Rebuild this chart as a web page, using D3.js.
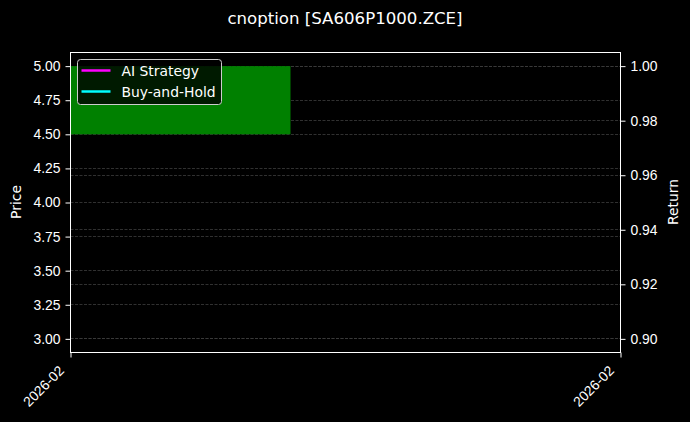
<!DOCTYPE html>
<html>
<head>
<meta charset="utf-8">
<script src="https://cdn.jsdelivr.net/npm/d3@7"></script>
<style>
  html, body { margin: 0; padding: 0; background: #000; }
  svg { display: block; font-family: "DejaVu Sans", sans-serif; }
</style>
</head>
<body>
<script>
// data
const title = "cnoption [SA606P1000.ZCE]";
const barDates = ["2026-02-12T00:00:00"];
const barLow = [4.5];
const barHigh = [5.0];
const xRange = ["2026-02-12T00:00:00", "2026-02-13T00:00:00"];
const xTickLabels = ["2026-02", "2026-02"];
const priceTicks = [3.0, 3.25, 3.5, 3.75, 4.0, 4.25, 4.5, 4.75, 5.0];
const returnTicks = [0.9, 0.92, 0.94, 0.96, 0.98, 1.0];
const legendItems = ["AI Strategy", "Buy-and-Hold"];
const legendColors = ["#ff00ff", "#00ffff"];

// canvas
const width = 690;
const height = 422;
const margin = { top: 52, right: 70, bottom: 70, left: 70 };
const iw = width - margin.left - margin.right;
const ih = height - margin.top - margin.bottom;
const fs = "13.9px";

const svg = d3
  .select("body")
  .append("svg")
  .attr("width", width)
  .attr("height", height);

svg.append("rect").attr("width", width).attr("height", height).attr("fill", "#000");

const g = svg
  .append("g")
  .attr("transform", "translate(" + (margin.left + 0.5) + "," + (margin.top + 0.5) + ")");

// scales
const parse = d3.isoParse;
const x = d3.scaleTime().domain(xRange.map(parse)).range([0, iw]);
const y = d3.scaleLinear().domain([2.9, 5.1]).range([ih, 0]);
const y2 = d3.scaleLinear().domain([0.895, 1.005]).range([ih, 0]);

svg
  .append("defs")
  .append("clipPath")
  .attr("id", "clip")
  .append("rect")
  .attr("width", iw)
  .attr("height", ih);

// grid lines
function grid(ticks, scale) {
  g.append("g")
    .selectAll("line")
    .data(ticks)
    .enter()
    .append("line")
    .attr("x1", 0)
    .attr("x2", iw)
    .attr("y1", (d) => Math.round(scale(d)))
    .attr("y2", (d) => Math.round(scale(d)))
    .attr("stroke", "#3c3c3c")
    .attr("stroke-width", 0.8)
    .attr("stroke-dasharray", "3,1.5");
}
grid(priceTicks, y);
grid(returnTicks, y2);

// bars (0.8 day wide, centered on date)
const halfDay = 0.4 * 24 * 3600 * 1000;
g.append("g")
  .attr("clip-path", "url(#clip)")
  .selectAll("rect")
  .data(barDates)
  .enter()
  .append("rect")
  .attr("x", (d) => x(new Date(parse(d).getTime() - halfDay)))
  .attr("width", (d) => x(new Date(parse(d).getTime() + halfDay)) - x(new Date(parse(d).getTime() - halfDay)))
  .attr("y", (d, i) => y(barHigh[i]))
  .attr("height", (d, i) => y(barLow[i]) - y(barHigh[i]))
  .attr("fill", "#008000");

// axes
const yAxis = g
  .append("g")
  .call(d3.axisLeft(y).tickValues(priceTicks).tickFormat(d3.format(".2f")).tickSize(5).tickPadding(5));

const y2Axis = g
  .append("g")
  .attr("transform", "translate(" + iw + ",0)")
  .call(d3.axisRight(y2).tickValues(returnTicks).tickFormat(d3.format(".2f")).tickSize(5).tickPadding(5));

const xAxis = g
  .append("g")
  .attr("transform", "translate(0," + ih + ")")
  .call(
    d3
      .axisBottom(x)
      .tickValues(xRange.map(parse))
      .tickFormat((d, i) => xTickLabels[i])
      .tickSize(5)
      .tickPadding(5)
  );

[yAxis, y2Axis, xAxis].forEach((a) => {
  a.select(".domain").remove();
  a.selectAll("line").attr("stroke", "#fff").attr("stroke-width", 1);
  a.selectAll("text").attr("fill", "#fff").style("font-size", fs);
});

xAxis
  .selectAll("text")
  .attr("text-anchor", "end")
  .attr("dy", 0)
  .attr("y", 0)
  .attr("transform", "translate(-6,19) rotate(-45)");

// frame
g.append("rect")
  .attr("width", iw)
  .attr("height", ih)
  .attr("fill", "none")
  .attr("stroke", "#fff")
  .attr("stroke-width", 1);

// labels
svg
  .append("text")
  .attr("x", width / 2)
  .attr("y", 24)
  .attr("text-anchor", "middle")
  .attr("fill", "#fff")
  .style("font-size", "16.6px")
  .text(title);

svg
  .append("text")
  .attr("transform", "translate(21," + (margin.top + ih / 2) + ") rotate(-90)")
  .attr("text-anchor", "middle")
  .attr("fill", "#fff")
  .style("font-size", fs)
  .text("Price");

svg
  .append("text")
  .attr("transform", "translate(678," + (margin.top + ih / 2) + ") rotate(-90)")
  .attr("text-anchor", "middle")
  .attr("fill", "#fff")
  .style("font-size", fs)
  .text("Return");

// legend
const legend = g.append("g").attr("transform", "translate(7,7)");
legend
  .append("rect")
  .attr("width", 144)
  .attr("height", 45)
  .attr("rx", 3)
  .attr("fill", "rgba(0,0,0,0.8)")
  .attr("stroke", "#ccc")
  .attr("stroke-width", 1);

const li = legend
  .selectAll("g.item")
  .data(legendItems)
  .enter()
  .append("g")
  .attr("class", "item")
  .attr("transform", (d, i) => "translate(0," + (11 + i * 21) + ")");

li.append("line")
  .attr("x1", 4)
  .attr("x2", 33)
  .attr("stroke", (d, i) => legendColors[i])
  .attr("stroke-width", 2.5);

li.append("text")
  .attr("x", 44)
  .attr("y", 5)
  .attr("fill", "#fff")
  .style("font-size", fs)
  .text((d) => d);
</script>
</body>
</html>
